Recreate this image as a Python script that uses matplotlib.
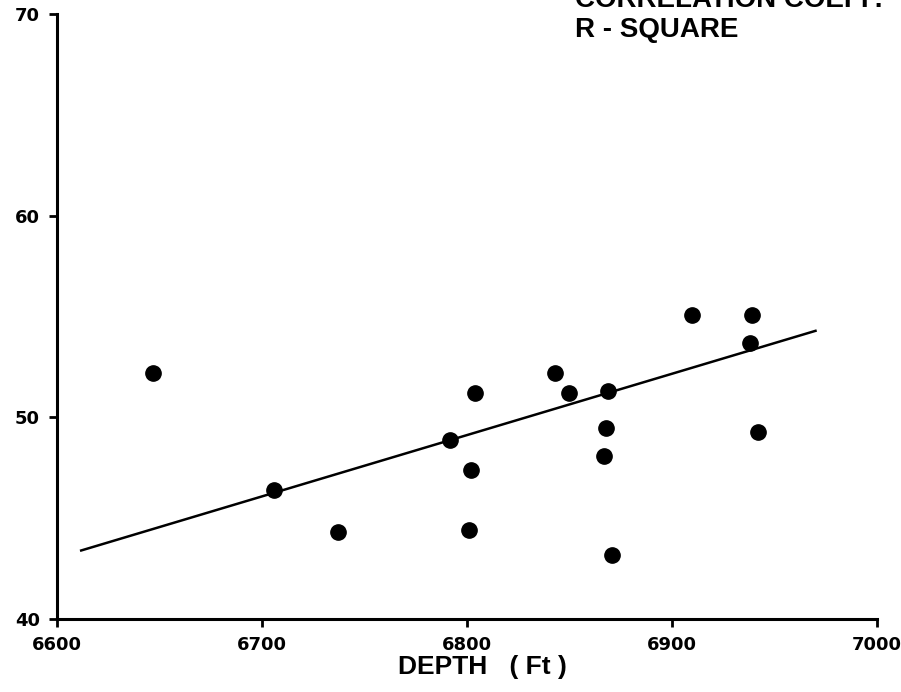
import numpy as np
import matplotlib.pyplot as plt

# points
depth = [6647, 6706, 6737, 6792, 6801, 6802, 6804, 6843, 6850,
         6867, 6868, 6869, 6871, 6910, 6939, 6938, 6942]
value = [52.2, 46.4, 44.3, 48.9, 44.4, 47.4, 51.2, 52.2, 51.2,
         48.1, 49.5, 51.3, 43.2, 55.1, 55.1, 53.7, 49.3]

# regression line end points
fit_x = [6612, 6970]
fit_y = [43.4, 54.3]

xticks = [6600, 6700, 6800, 6900, 7000]
yticks = [40, 50, 60, 70]

fig = plt.figure(figsize=(9.01, 6.92), dpi=100)
ax = fig.add_axes([0.0628, 0.1055, 0.9106, 0.8736])

ax.plot(fit_x, fit_y, color='black', linewidth=1.8)
ax.plot(depth, value, 'o', color='black', markersize=11)

ax.set_xlim(6600, 7000)
ax.set_ylim(40, 70)
ax.set_xticks(xticks)
ax.set_yticks(yticks)
for s in ['top', 'right']:
    ax.spines[s].set_visible(False)
for s in ['left', 'bottom']:
    ax.spines[s].set_linewidth(2.2)
ax.tick_params(direction='out', length=6, width=2, pad=6, labelsize=13)
for lab in ax.get_xticklabels() + ax.get_yticklabels():
    lab.set_fontweight('bold')
ax.patch.set_alpha(0)

fig.text(482/901, 1 - 667/692, 'DEPTH   ( Ft )', ha='center', va='center',
         fontsize=19, fontweight='bold', family='Liberation Sans')
fig.text(575/901, 1 - 37/692, 'R - SQUARE', ha='left', va='baseline',
         fontsize=20, fontweight='bold', family='Liberation Sans')
# top line is cut off by the page edge in the scan
fig.text(575/901, 1 - 7/692, 'CORRELATION COEFF.', ha='left', va='baseline',
         fontsize=20, fontweight='bold', family='Liberation Sans')

plt.savefig('out.png', dpi=100)
